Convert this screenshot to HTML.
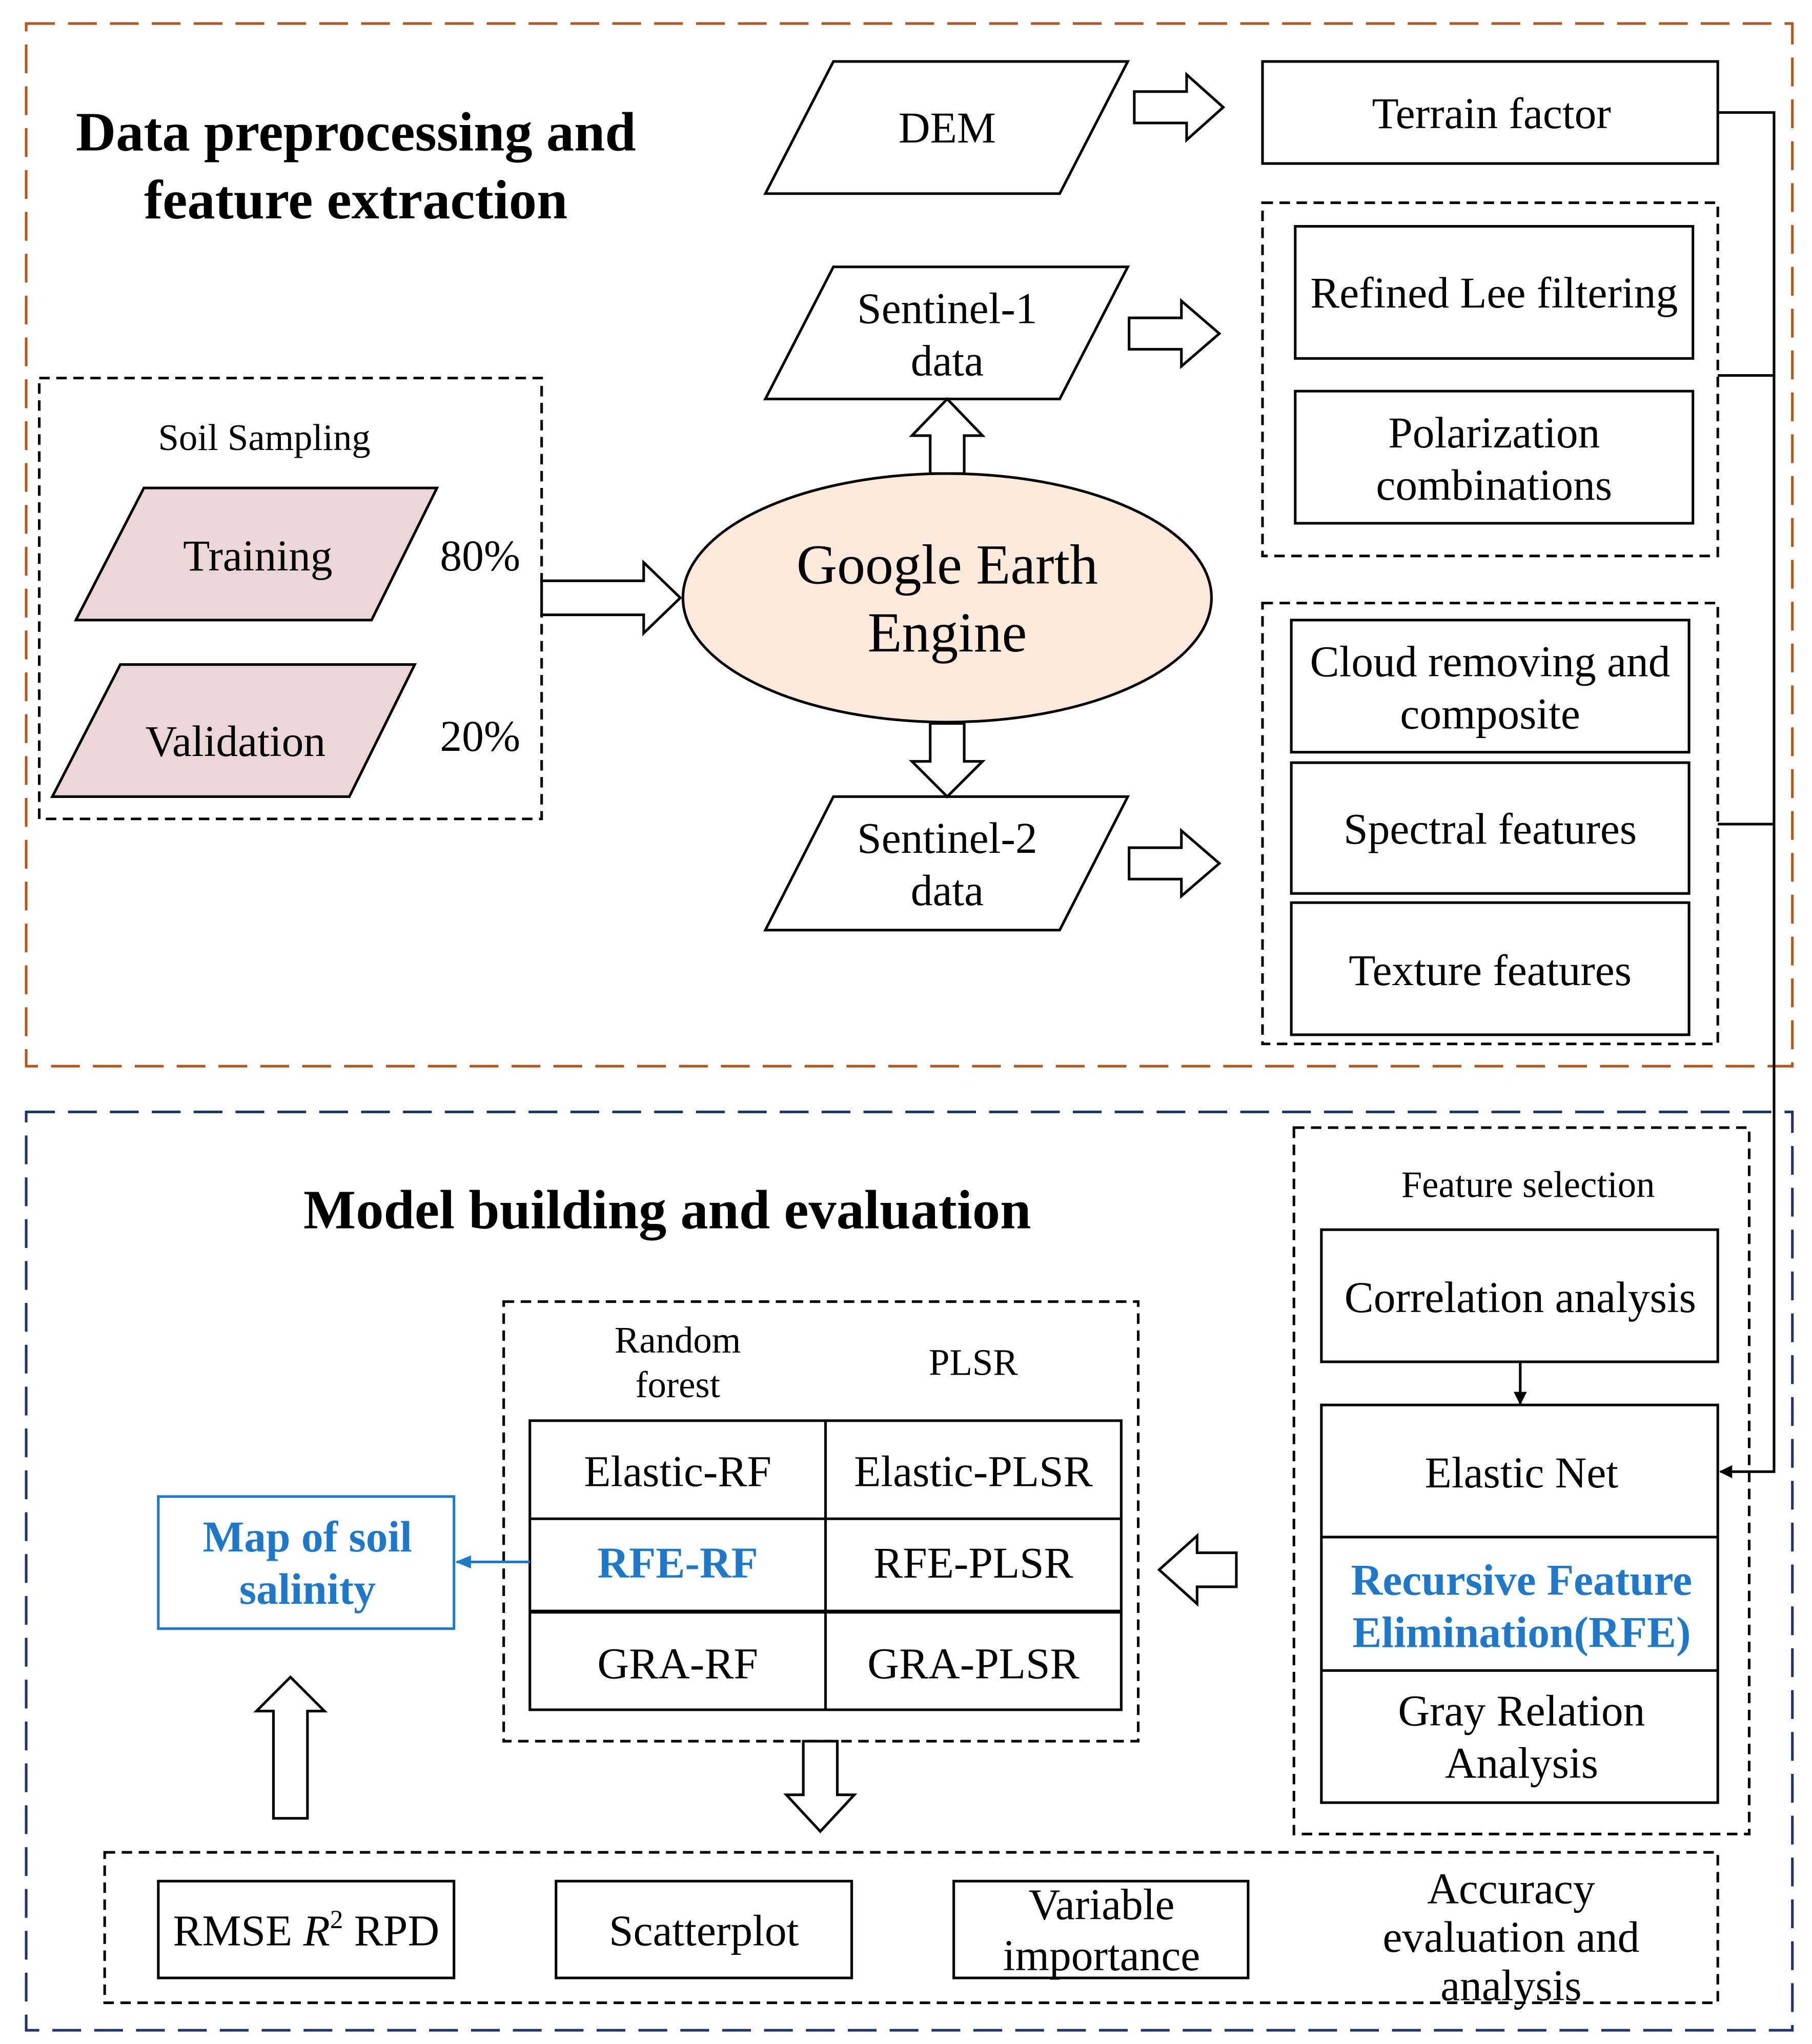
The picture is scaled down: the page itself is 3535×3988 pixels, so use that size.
<!DOCTYPE html>
<html><head><meta charset="utf-8"><style>html,body{margin:0;padding:0;background:#fff}svg{display:block}</style></head>
<body>
<svg width="3535" height="3988" viewBox="0 0 1385 1562.5" xmlns="http://www.w3.org/2000/svg" font-family="Liberation Serif, serif">
<defs>
<marker id="ab" markerWidth="10" markerHeight="10" refX="9" refY="5" orient="auto" markerUnits="userSpaceOnUse"><path d="M0,0 L10,5 L0,10 z" fill="#000"/></marker>
<marker id="abl" markerWidth="12" markerHeight="10" refX="11" refY="5" orient="auto" markerUnits="userSpaceOnUse"><path d="M0,0 L12,5 L0,10 z" fill="#1f78c8"/></marker>
</defs>
<g fill="none" stroke-width="2">
<rect x="20" y="18" width="1350" height="797" stroke="#b5561c" stroke-dasharray="22,10"/>
<rect x="20" y="850" width="1350" height="702" stroke="#1f3468" stroke-dasharray="22,10"/>
</g>
<g font-weight="bold" font-size="42.5" text-anchor="middle" fill="#000">
<text x="272" y="115">Data preprocessing and</text>
<text x="272" y="167">feature extraction</text>
<text x="510" y="939">Model building and evaluation</text>
</g>
<g stroke="#000" stroke-width="2" fill="#fff">
<path d="M585,148 L637,47 L862,47 L810,148 Z"/>
<path d="M585,305 L637,204 L862,204 L810,305 Z"/>
<path d="M585,711 L637,609 L862,609 L810,711 Z"/>
<rect x="965" y="47" width="348" height="78"/>
<rect x="990" y="173" width="304" height="101"/>
<rect x="990" y="299" width="304" height="101"/>
<rect x="987" y="474" width="304" height="101"/>
<rect x="987" y="583" width="304" height="100"/>
<rect x="987" y="690" width="304" height="101"/>
<rect x="1010" y="940" width="303" height="101"/>
<rect x="1010" y="1074" width="303" height="304"/>
<line x1="1010" y1="1175" x2="1313" y2="1175"/>
<line x1="1010" y1="1277" x2="1313" y2="1277"/>
<rect x="405" y="1086" width="452" height="221"/>
<line x1="631" y1="1086" x2="631" y2="1307"/>
<line x1="405" y1="1161" x2="857" y2="1161"/>
<line x1="405" y1="1232" x2="857" y2="1232" stroke-width="3"/>
<rect x="121" y="1438" width="226" height="74"/>
<rect x="425" y="1438" width="226" height="74"/>
<rect x="729" y="1438" width="225" height="74"/>
<path d="M58,474 L110,373 L334,373 L284,474 Z" fill="#ead6d6"/>
<path d="M40,609 L92,508 L317,508 L267,609 Z" fill="#ead6d6"/>
<ellipse cx="724" cy="457" rx="202" ry="95" fill="#fbe9dc"/>
</g>
<g stroke="#000" stroke-width="2" fill="none" stroke-dasharray="8,5">
<rect x="965" y="155" width="348" height="270"/>
<rect x="965" y="461" width="348" height="337"/>
<rect x="30" y="289" width="384" height="337"/>
<rect x="989" y="862" width="348" height="540"/>
<rect x="385" y="995" width="485" height="336"/>
<rect x="80" y="1416" width="1233" height="115"/>
</g>
<rect x="121" y="1144" width="226" height="101" fill="#fff" stroke="#1f78c8" stroke-width="2"/>
<g stroke="#000" stroke-width="2" fill="#fff">
<path d="M867,70 L907,70 L907,57 L935,82 L907,107 L907,94 L867,94 Z"/>
<path d="M863,243 L903,243 L903,230 L932,255 L903,280 L903,267 L863,267 Z"/>
<path d="M863,648 L903,648 L903,635 L932,660 L903,685 L903,672 L863,672 Z"/>
<path d="M414,444 L492,444 L492,430 L520,457 L492,484 L492,470 L414,470 Z"/>
<path d="M711,362 L711,333 L697,333 L724,305 L751,333 L737,333 L737,362 Z"/>
<path d="M711,553 L711,582 L697,582 L724,609 L751,582 L737,582 L737,553 Z"/>
<path d="M945,1187 L915,1187 L915,1174 L886,1200 L915,1226 L915,1213 L945,1213 Z"/>
<path d="M209,1390 L209,1308 L196,1308 L222,1282 L248,1308 L235,1308 L235,1390 Z"/>
<path d="M614,1331 L614,1372 L601,1372 L627,1400 L653,1372 L640,1372 L640,1331 Z"/>
</g>
<g stroke="#000" stroke-width="2" fill="none">
<polyline points="1313,86 1356,86 1356,1125 1315,1125" marker-end="url(#ab)"/>
<line x1="1313" y1="287" x2="1356" y2="287"/>
<line x1="1313" y1="630" x2="1356" y2="630"/>
<line x1="1162" y1="1041" x2="1162" y2="1073" marker-end="url(#ab)"/>
</g>
<line x1="405" y1="1194" x2="349" y2="1194" stroke="#1f78c8" stroke-width="2" marker-end="url(#abl)"/>
<g font-size="33.5" text-anchor="middle" fill="#000">
<text x="724" y="109">DEM</text>
<text x="724" y="247">Sentinel-1</text>
<text x="724" y="287">data</text>
<text x="724" y="652">Sentinel-2</text>
<text x="724" y="692">data</text>
<text x="1140" y="98">Terrain factor</text>
<text x="1142" y="235">Refined Lee filtering</text>
<text x="1142" y="342">Polarization</text>
<text x="1142" y="382">combinations</text>
<text x="1139" y="517">Cloud removing and</text>
<text x="1139" y="557">composite</text>
<text x="1139" y="645">Spectral features</text>
<text x="1139" y="753">Texture features</text>
<text x="197" y="436">Training</text>
<text x="180" y="578">Validation</text>
<text x="367" y="436">80%</text>
<text x="367" y="574">20%</text>
<text x="1162" y="1003">Correlation analysis</text>
<text x="1163" y="1137">Elastic Net</text>
<text x="1163" y="1319">Gray Relation</text>
<text x="1163" y="1359">Analysis</text>
<text x="518" y="1136">Elastic-RF</text>
<text x="744" y="1136">Elastic-PLSR</text>
<text x="744" y="1206">RFE-PLSR</text>
<text x="518" y="1283">GRA-RF</text>
<text x="744" y="1283">GRA-PLSR</text>
<text x="234" y="1487">RMSE <tspan font-style="italic">R</tspan><tspan font-size="20" dy="-13">2</tspan><tspan dy="13"> RPD</tspan></text>
<text x="538" y="1487">Scatterplot</text>
<text x="842" y="1467">Variable</text>
<text x="842" y="1506">importance</text>
<text x="1155" y="1455">Accuracy</text>
<text x="1155" y="1492">evaluation and</text>
<text x="1155" y="1529">analysis</text>
<text x="724" y="446" font-size="43">Google Earth</text>
<text x="724" y="498" font-size="43">Engine</text>
</g>
<g font-size="28.5" text-anchor="middle" fill="#000">
<text x="202" y="344">Soil Sampling</text>
<text x="1168" y="915">Feature selection</text>
<text x="518" y="1034">Random</text>
<text x="518" y="1068">forest</text>
<text x="744" y="1051">PLSR</text>
</g>
<g font-size="33.5" font-weight="bold" text-anchor="middle" fill="#1f78c8">
<text x="1163" y="1219">Recursive Feature</text>
<text x="1163" y="1259">Elimination(RFE)</text>
<text x="518" y="1206">RFE-RF</text>
<text x="235" y="1186">Map of soil</text>
<text x="235" y="1226">salinity</text>
</g>
</svg>
</body></html>
